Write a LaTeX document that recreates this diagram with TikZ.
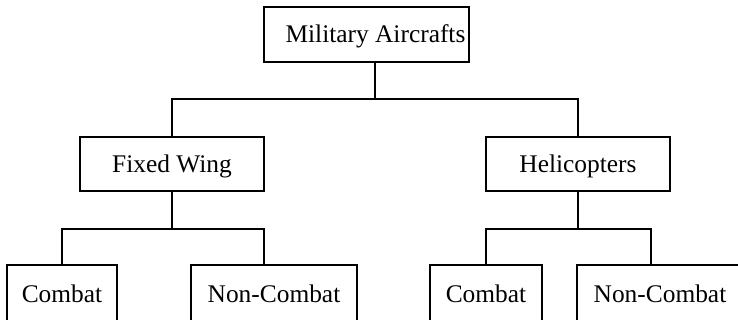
\documentclass[tikz,border=0pt]{standalone}
\usepackage{fontspec}
\setmainfont{Liberation Serif}
\begin{document}
\begin{tikzpicture}[x=1pt,y=-1pt,
  box/.style={draw=black, line width=1.1pt, rectangle, inner sep=0pt,
    font=\fontsize{25.4}{30}\selectfont, text height=19pt, text depth=2pt},
  link/.style={draw=black, line width=1.1pt}]
  \useasboundingbox (0,0) rectangle (738,320);
  \clip (0,0) rectangle (738,320);
  % hierarchy boxes
  \node[box, minimum width=205pt, minimum height=55pt] (root) at (366.5,34.5) {\hspace{18pt}Military Aircrafts};
  \node[box, minimum width=184pt, minimum height=54pt] (fw) at (172,164) {Fixed Wing};
  \node[box, minimum width=184pt, minimum height=54pt] (hc) at (578,164) {Helicopters};
  \node[box, minimum width=110pt, minimum height=57pt] (cl) at (62,293.5) {Combat};
  \node[box, minimum width=166pt, minimum height=57pt] (ncl) at (274,293.5) {Non-Combat};
  \node[box, minimum width=112pt, minimum height=57pt] (cr) at (486,293.5) {Combat};
  \node[box, minimum width=166pt, minimum height=57pt] (ncr) at (660,293.5) {Non-Combat};
  % junction points
  \coordinate (j1) at (375,99);
  \coordinate (j2) at (264,229);
  \coordinate (j3) at (651,229);
  % connectors
  \draw[link] (root.south -| j1) -- (j1);
  \draw[link] (fw.north) -- (fw.north |- j1) -- (hc.north |- j1) -- (hc.north);
  \draw[link] (fw.south) -- (fw.south |- j2);
  \draw[link] (cl.north) -- (cl.north |- j2) -- (j2) -- (j2 |- ncl.north);
  \draw[link] (hc.south) -- (hc.south |- j3);
  \draw[link] (cr.north) -- (cr.north |- j3) -- (j3) -- (j3 |- ncr.north);
\end{tikzpicture}
\end{document}
